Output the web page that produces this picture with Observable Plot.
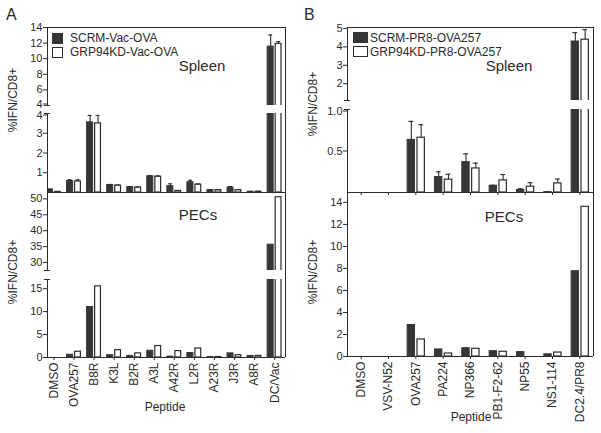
<!DOCTYPE html>
<html><head><meta charset="utf-8">
<script src="https://cdn.jsdelivr.net/npm/d3@7"></script>
<script src="https://cdn.jsdelivr.net/npm/@observablehq/plot@0.6"></script>
<style>
body{margin:0;background:#fff;}
#chart{position:relative;width:601px;height:433px;font-family:'Liberation Sans',Arial,Helvetica,sans-serif;color:#2b2b2b;overflow:hidden;}
#chart svg{position:absolute;left:0;top:0;}
.lbl{position:absolute;line-height:1;white-space:nowrap;}
.sw{position:absolute;box-sizing:border-box;border:1.2px solid #2b2b2b;}
</style></head><body><div id="chart"></div>
<script>
// ---------- data ----------
const peptidesA = ["DMSO","OVA257","B8R","K3L","B2R","A3L","A42R","L2R","A23R","J3R","A8R","DC/Vac"];
const legendA = ["SCRM-Vac-OVA","GRP94KD-Vac-OVA"];
const spleenA_SCRM     = [0.15, 0.58, 3.55, 0.38, 0.27, 0.82, 0.32, 0.52, 0.12, 0.25, 0.04, 11.55];
const spleenA_SCRM_err = [0.02, 0.07, 0.35, 0.03, 0.03, 0.04, 0.12, 0.10, 0.02, 0.05, 0.01, 1.50];
const spleenA_GRP      = [0.03, 0.56, 3.50, 0.35, 0.25, 0.80, 0.08, 0.40, 0.12, 0.12, 0.04, 11.90];
const spleenA_GRP_err  = [0.00, 0.08, 0.40, 0.03, 0.03, 0.04, 0.02, 0.03, 0.02, 0.03, 0.01, 0.30];
const pecA_SCRM = [0, 0.6, 11.0, 0.5, 0.35, 1.47, 0.2, 0.97, 0.1, 0.9, 0.35, 35.6];
const pecA_GRP  = [0, 1.25, 15.5, 1.6, 0.9, 2.5, 1.4, 1.97, 0.1, 0.5, 0.35, 50.5];

const peptidesB = ["DMSO","VSV-N52","OVA257","PA224","NP366","PB1-F2-62","NP55","NS1-114","DC2.4/PR8"];
const legendB = ["SCRM-PR8-OVA257","GRP94KD-PR8-OVA257"];
const spleenB_SCRM     = [0, 0, 0.634, 0.187, 0.366, 0.08, 0.03, 0.005, 4.29];
const spleenB_SCRM_err = [0, 0, 0.223, 0.063, 0.100, 0.008, 0.015, 0, 0.48];
const spleenB_GRP      = [0, 0, 0.660, 0.155, 0.290, 0.146, 0.07, 0.11, 4.39];
const spleenB_GRP_err  = [0, 0, 0.157, 0.065, 0.064, 0.070, 0.048, 0.052, 0.54];
const pecB_SCRM = [0, 0, 2.86, 0.64, 0.76, 0.49, 0.4, 0.2, 7.75];
const pecB_GRP  = [0, 0, 1.55, 0.27, 0.70, 0.43, 0, 0.36, 13.6];

const ticksSpleenA_hi = [4, 6, 8, 10, 12, 14];
const ticksSpleenA_lo = [1, 2, 3, 4];
const ticksPecA_hi = [30, 35, 40, 45, 50];
const ticksPecA_lo = [0, 5, 10, 15];
const ticksSpleenB_hi = [2, 3, 4, 5];
const ticksSpleenB_lo = [0.5, 1.0];
const ticksPecB = [0, 2, 4, 6, 8, 10, 12, 14];
const yTitle = "%IFN/CD8+";
const xTitle = "Peptide";

// ---------- styling / layout ----------
const W = 601, H = 433;
const INK = "#2b2b2b", DARK = "#363636";
const FONT = "'Liberation Sans', Arial, Helvetica, sans-serif";
const chart = document.getElementById("chart");

function rows(n, a, ae, b, be) {
  const out = [];
  for (let i = 0; i < n; i++) {
    out.push({i, g: 0, v: a[i], e: ae ? ae[i] : 0});
    out.push({i, g: 1, v: b[i], e: be ? be[i] : 0});
  }
  return out;
}

const colA = {xDomain: [-0.324, 11.54], left: 47, right: 285, top: 27, bottom: 357,
  off: [[-0.35, -0.05], [0.05, 0.34]], cap: 0.1, brk: 0.15, cats: peptidesA};
const colB = {xDomain: [-0.5, 8.5], left: 347, right: 593, top: 27, bottom: 356,
  off: [[-0.3, -0.03], [0.06, 0.33]], cap: 0.09, brk: 0.11, cats: peptidesB};

function segment(col, s, data) {
  const [x0, x1] = col.xDomain;
  const [y0, y1] = s.domain;
  const ctr = g => (col.off[g][0] + col.off[g][1]) / 2;
  const fmt = s.fmt || (d => String(d));
  const marks = [
    Plot.rectY(data.filter(d => d.g === 0 && d.v > 0), {x1: d => d.i + col.off[0][0], x2: d => d.i + col.off[0][1], y1: 0, y2: "v", fill: DARK, stroke: DARK, strokeWidth: 1, clip: true}),
    Plot.rectY(data.filter(d => d.g === 1 && d.v > 0), {x1: d => d.i + col.off[1][0], x2: d => d.i + col.off[1][1], y1: 0, y2: "v", fill: "white", stroke: INK, strokeWidth: 1.2, clip: true}),
  ];
  const err = data.filter(d => d.e > 0);
  marks.push(Plot.ruleX(err, {x: d => d.i + ctr(d.g), y1: "v", y2: d => d.v + d.e, stroke: INK, strokeWidth: 1.1, clip: true}));
  marks.push(Plot.ruleY(err, {y: d => d.v + d.e, x1: d => d.i + ctr(d.g) - col.cap, x2: d => d.i + ctr(d.g) + col.cap, stroke: INK, strokeWidth: 1.1, clip: true}));
  marks.push(Plot.ruleX([x0], {stroke: INK}));
  if (s.topLine) marks.push(Plot.ruleY([y1], {stroke: INK}));
  if (s.baseLine) marks.push(Plot.ruleY([y0], {stroke: INK}));
  if (s.capBottom) marks.push(Plot.ruleY([y0], {x1: x0 - col.brk, x2: x0 + col.brk, stroke: INK}));
  if (s.capTop) marks.push(Plot.ruleY([y1], {x1: x0 - col.brk, x2: x0 + col.brk, stroke: INK}));
  // tick values at a break edge get their label nudged away from the break
  const edge = v => (s.capBottom && v === y0) || (s.capTop && v === y1);
  const inner = s.ticks.filter(v => !edge(v));
  const edges = s.ticks.filter(edge);
  marks.push(Plot.axisY({ticks: inner, tickFormat: fmt, tickSize: 4, tickPadding: 1, fontSize: 11, label: null}));
  if (edges.length) marks.push(Plot.axisY({ticks: edges, tickFormat: fmt, tickSize: 4, tickPadding: 1, fontSize: 11, label: null, dy: s.capBottom ? -1.5 : 1.5}));
  if (s.xAxis === "labels") {
    marks.push(Plot.axisX({ticks: d3.range(col.cats.length), tickFormat: i => col.cats[i], tickRotate: -90, tickSize: 3, tickPadding: 2, fontSize: 12, label: null}));
  } else if (s.xAxis === "ticks") {
    marks.push(Plot.axisX({ticks: d3.range(col.cats.length), tickFormat: () => "", tickSize: 3, label: null}));
  }
  const svg = Plot.plot({
    width: W, height: H,
    marginLeft: col.left, marginRight: W - col.right, marginTop: s.top, marginBottom: H - s.bottom,
    style: {background: "transparent", overflow: "visible", fontFamily: FONT, fontSize: "12px", color: INK},
    x: {type: "linear", domain: col.xDomain, label: null, axis: null},
    y: {type: "linear", domain: s.domain, label: null, axis: null},
    marks
  });
  chart.appendChild(svg);
}

function rightFrame(col) {
  const svg = Plot.plot({
    width: W, height: H,
    marginLeft: col.left, marginRight: W - col.right, marginTop: col.top, marginBottom: H - col.bottom,
    style: {background: "transparent", overflow: "visible"},
    x: {type: "linear", domain: col.xDomain, axis: null},
    marks: [Plot.ruleX([col.xDomain[1]], {stroke: INK})]
  });
  chart.appendChild(svg);
}

// Panel A
const spA = rows(peptidesA.length, spleenA_SCRM, spleenA_SCRM_err, spleenA_GRP, spleenA_GRP_err);
const peA = rows(peptidesA.length, pecA_SCRM, null, pecA_GRP, null);
segment(colA, {top: 27, bottom: 105, domain: [4, 14], ticks: ticksSpleenA_hi, topLine: true, capBottom: true}, spA);
segment(colA, {top: 113, bottom: 192, domain: [0, 4], ticks: ticksSpleenA_lo, capTop: true, baseLine: true}, spA);
segment(colA, {top: 192, bottom: 270, domain: [27.5, 52], ticks: ticksPecA_hi, capBottom: true}, peA);
segment(colA, {top: 279, bottom: 357, domain: [0, 17], ticks: ticksPecA_lo, capTop: true, baseLine: true, xAxis: "labels"}, peA);
rightFrame(colA);

// Panel B
const spB = rows(peptidesB.length, spleenB_SCRM, spleenB_SCRM_err, spleenB_GRP, spleenB_GRP_err);
const peB = rows(peptidesB.length, pecB_SCRM, null, pecB_GRP, null);
segment(colB, {top: 27, bottom: 100, domain: [1.09, 5.05], ticks: ticksSpleenB_hi, topLine: true, capBottom: true}, spB);
segment(colB, {top: 109, bottom: 192, domain: [0, 1.0], ticks: ticksSpleenB_lo, fmt: d => d.toFixed(1), capTop: true, baseLine: true, xAxis: "ticks"}, spB);
segment(colB, {top: 192, bottom: 356, domain: [0, 14.9], ticks: ticksPecB, baseLine: true, xAxis: "labels"}, peB);
rightFrame(colB);

// ---------- text annotations ----------
function label(text, x, baseline, size, anchor) {
  const d = document.createElement("div");
  d.className = "lbl";
  d.textContent = text;
  d.style.fontSize = size + "px";
  d.style.top = (baseline - 0.8465 * size) + "px";
  if (anchor === "middle") { d.style.left = (x - 150) + "px"; d.style.width = "300px"; d.style.textAlign = "center"; }
  else d.style.left = x + "px";
  chart.appendChild(d);
}
function vlabel(text, cx, cy, size) {
  const d = document.createElement("div");
  d.className = "lbl";
  d.textContent = text;
  d.style.fontSize = size + "px";
  d.style.width = "140px"; d.style.height = size + "px"; d.style.textAlign = "center";
  d.style.left = (cx - 70) + "px"; d.style.top = (cy - size / 2) + "px";
  d.style.transform = "rotate(-90deg)";
  chart.appendChild(d);
}
function swatch(x, y, w, h, fill) {
  const d = document.createElement("div");
  d.className = "sw";
  Object.assign(d.style, {left: x + "px", top: y + "px", width: w + "px", height: h + "px", background: fill});
  if (fill !== "white") d.style.borderColor = DARK;
  chart.appendChild(d);
}

label("A", 6, 21, 16);
label("B", 304, 21, 16);
swatch(52, 33, 11, 10.5, DARK); swatch(52, 47, 11, 10.5, "white");
label(legendA[0], 70, 42.5, 12); label(legendA[1], 70, 56.5, 12);
swatch(353, 32, 15, 10.5, DARK); swatch(353, 46, 15, 10.5, "white");
label(legendB[0], 370, 42, 12); label(legendB[1], 370, 56, 12);
label("Spleen", 202, 71, 15, "middle");
label("PECs", 198, 220, 15, "middle");
label("Spleen", 509, 71, 15, "middle");
label("PECs", 504, 222, 15, "middle");
vlabel(yTitle, 13, 100, 12);
vlabel(yTitle, 13, 272, 12);
vlabel(yTitle, 313, 104, 12);
vlabel(yTitle, 313, 272, 12);
label(xTitle, 165, 411.5, 12, "middle");
label(xTitle, 471, 421, 12, "middle");
</script></body></html>
